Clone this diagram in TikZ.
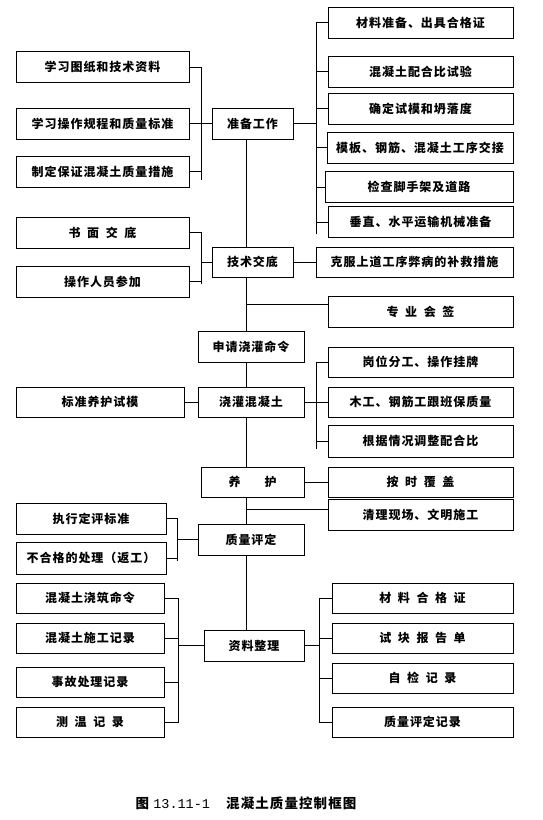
\documentclass[tikz,border=0pt]{standalone}
\usepackage{fontspec}
\setmainfont{Noto Sans CJK SC}[LetterSpace=8]
\newfontfamily\capnum{Liberation Mono}
\usepackage{tikz}
\usetikzlibrary{positioning,calc}
\newcommand{\ks}{\hspace{0.55em}}

\begin{document}
\begin{tikzpicture}[
          x=1pt, y=-1pt,
          box/.style={draw, line width=0.8pt, minimum height=31pt, inner sep=1pt, font=\fontsize{12}{14}\selectfont\bfseries},
          link/.style={line width=0.8pt}
      ]
        \useasboundingbox (0,0) rectangle (543,820);
        \coordinate (spine) at (246,0);
        % preparation
        \node[box, minimum width=173pt] (tuzhi) at (102.5,67) {学习图纸和技术资料};
        \node[box, minimum width=173pt] (guicheng) at (102.5,123.5) {学习操作规程和质量标准};
        \node[box, minimum width=173pt] (cuoshi) at (102.5,171.5) {制定保证混凝土质量措施};
        \node[box, minimum width=81pt] (zhunbei) at (252.5,123.5) {准备工作};
        \node[box, minimum width=185pt] (hegezheng) at (420.5,22.5) {材料准备、出具合格证};
        \node[box, minimum width=185pt] (peihebi) at (420.5,71.5) {混凝土配合比试验};
        \node[box, minimum width=185pt] (shimo) at (420.5,108.5) {确定试模和坍落度};
        \node[box, minimum width=186pt] (jiaojie) at (420,147.5) {模板、钢筋、混凝土工序交接};
        \node[box, minimum width=188pt] (jiaoshou) at (419,187) {检查脚手架及道路};
        \node[box, minimum width=185pt] (yunshu) at (420.5,222) {垂直、水平运输机械准备};
        \coordinate (lbus) at (201,0);
        \coordinate (rbus) at (316,0);
        \draw[link] (tuzhi.east) -- (tuzhi.east -| lbus) -- ($(cuoshi.east -| lbus)+(0,8)$);
        \draw[link] (cuoshi.east) -- (cuoshi.east -| lbus);
        \draw[link] (guicheng.east) -- (zhunbei.west);
        \draw[link] (zhunbei.east) -- (zhunbei.east -| rbus);
        \draw[link] (hegezheng.west) -- (hegezheng.west -| rbus) -- ($(yunshu.west -| rbus)+(0,12)$);
        \draw[link] (peihebi.west) -- (peihebi.west -| rbus);
        \draw[link] (shimo.west) -- (shimo.west -| rbus);
        \draw[link] (jiaojie.west) -- (jiaojie.west -| rbus);
        \draw[link] (jiaoshou.west) -- (jiaoshou.west -| rbus);
        \draw[link] (yunshu.west) -- (yunshu.west -| rbus);
        % briefing
        \node[box, minimum width=173pt] (shumian) at (102.5,232.5) {书\ks 面\ks 交\ks 底};
        \node[box, minimum width=173pt] (renyuan) at (102.5,281.5) {操作人员参加};
        \node[box, minimum width=81pt, minimum height=30pt] (jishu) at (252.5,262) {技术交底};
        \node[box, minimum width=197pt, minimum height=30pt] (kefu) at (414.5,262) {克服上道工序弊病的补救措施};
        \node[box, minimum width=185pt] (huiqian) at (420.5,311.5) {专\ks 业\ks 会\ks 签};
        \draw[link] (shumian.east) -- (shumian.east -| lbus) -- ($(renyuan.east -| lbus)+(0,2)$);
        \draw[link] (renyuan.east) -- (renyuan.east -| lbus);
        \draw[link] (jishu.west -| lbus) -- (jishu.west);
        \draw[link] (jishu.east) -- (kefu.west);
        \draw[link] (zhunbei.south -| spine) -- (jishu.north -| spine);
        \draw[link] ([yshift=7pt]huiqian.west) -- ([yshift=7pt]huiqian.west -| spine);
        % pouring
        \node[box, minimum width=106pt] (shenqing) at (251,346.5) {申请浇灌命令};
        \node[box, minimum width=106pt, minimum height=30pt] (jiaoguan) at (251,402) {浇灌混凝土};
        \node[box, minimum width=168pt, minimum height=30pt] (shimoyh) at (100,402) {标准养护试模};
        \node[box, minimum width=185pt, minimum height=30pt] (gangwei) at (420.5,362) {岗位分工、操作挂牌};
        \node[box, minimum width=185pt, minimum height=30pt] (gengban) at (420.5,402) {木工、钢筋工跟班保质量};
        \node[box, minimum width=185pt, minimum height=32pt] (tiaozheng) at (420.5,441) {根据情况调整配合比};
        \draw[link] (jishu.south -| spine) -- (shenqing.north -| spine);
        \draw[link] (shenqing.south -| spine) -- (jiaoguan.north -| spine);
        \draw[link] (shimoyh.east) -- (jiaoguan.west);
        \draw[link] (jiaoguan.east) -- (gengban.west);
        \draw[link] (gangwei.west) -- (gangwei.west -| rbus) -- ($(tiaozheng.west -| rbus)+(0,8)$);
        \draw[link] (tiaozheng.west) -- (tiaozheng.west -| rbus);
        % curing and rating
        \node[box, minimum width=103pt, minimum height=30pt] (yanghu) at (252.5,482) {养\hspace{2em}护};
        \node[box, minimum width=185pt, minimum height=30pt] (fugai) at (420.5,482) {按\ks 时\ks 覆\ks 盖};
        \node[box, minimum width=185pt] (qingli) at (420.5,514.5) {清理现场、文明施工};
        \node[box, minimum width=106pt] (pingding) at (251,539.5) {质量评定};
        \node[box, minimum width=150pt] (biaozhun) at (91,518.5) {执行定评标准};
        \node[box, minimum width=150pt, minimum height=32pt] (fangong) at (91,558) {不合格的处理（返工）};
        \coordinate (pbus) at (177,0);
        \draw[link] (jiaoguan.south -| spine) -- (yanghu.north -| spine);
        \draw[link] (yanghu.east) -- (fugai.west);
        \draw[link] (yanghu.south -| spine) -- (pingding.north -| spine);
        \draw[link] ([yshift=5pt]qingli.west) -- ([yshift=5pt]qingli.west -| spine);
        \draw[link] (biaozhun.east) -- (biaozhun.east -| pbus) -- ($(fangong.east -| pbus)+(0,3)$);
        \draw[link] (fangong.east) -- (fangong.east -| pbus);
        \draw[link] (pingding.west -| pbus) -- (pingding.west);
        % records
        \node[box, minimum width=100pt] (ziliao) at (254,645.5) {资料整理};
        \node[box, minimum width=148pt, minimum height=30pt] (mingling) at (90,598) {混凝土浇筑命令};
        \node[box, minimum width=148pt, minimum height=30pt] (jilu) at (90,638) {混凝土施工记录};
        \node[box, minimum width=148pt, minimum height=30pt] (shigu) at (90,682) {事故处理记录};
        \node[box, minimum width=148pt, minimum height=30pt] (cewen) at (90,722) {测\ks 温\ks 记\ks 录};
        \node[box, minimum width=181pt, minimum height=30pt] (hege) at (422.5,598) {材\ks 料\ks 合\ks 格\ks 证};
        \node[box, minimum width=181pt, minimum height=30pt] (shikuai) at (422.5,638) {试\ks 块\ks 报\ks 告\ks 单};
        \node[box, minimum width=181pt, minimum height=30pt] (zijian) at (422.5,678) {自\ks 检\ks 记\ks 录};
        \node[box, minimum width=181pt, minimum height=30pt] (pdjilu) at (422.5,722) {质量评定记录};
        \coordinate (zlbus) at (178,0);
        \coordinate (zrbus) at (319,0);
        \draw[link] (pingding.south -| spine) -- (ziliao.north -| spine);
        \draw[link] (mingling.east) -- (mingling.east -| zlbus) -- (cewen.east -| zlbus) -- (cewen.east);
        \draw[link] (jilu.east) -- (jilu.east -| zlbus);
        \draw[link] (shigu.east) -- (shigu.east -| zlbus);
        \draw[link] (ziliao.west -| zlbus) -- (ziliao.west);
        \draw[link] (hege.west) -- (hege.west -| zrbus) -- (pdjilu.west -| zrbus) -- (pdjilu.west);
        \draw[link] (shikuai.west) -- (shikuai.west -| zrbus);
        \draw[link] (zijian.west) -- (zijian.west -| zrbus);
        \draw[link] (ziliao.east) -- (ziliao.east -| zrbus);
        \node[font=\fontsize{13.5}{16}\selectfont\bfseries] (caption) at (246,803) {图 {\capnum\mdseries 13.11-1}\hspace{1.2em}混凝土质量控制框图};
      \end{tikzpicture}
\end{document}
